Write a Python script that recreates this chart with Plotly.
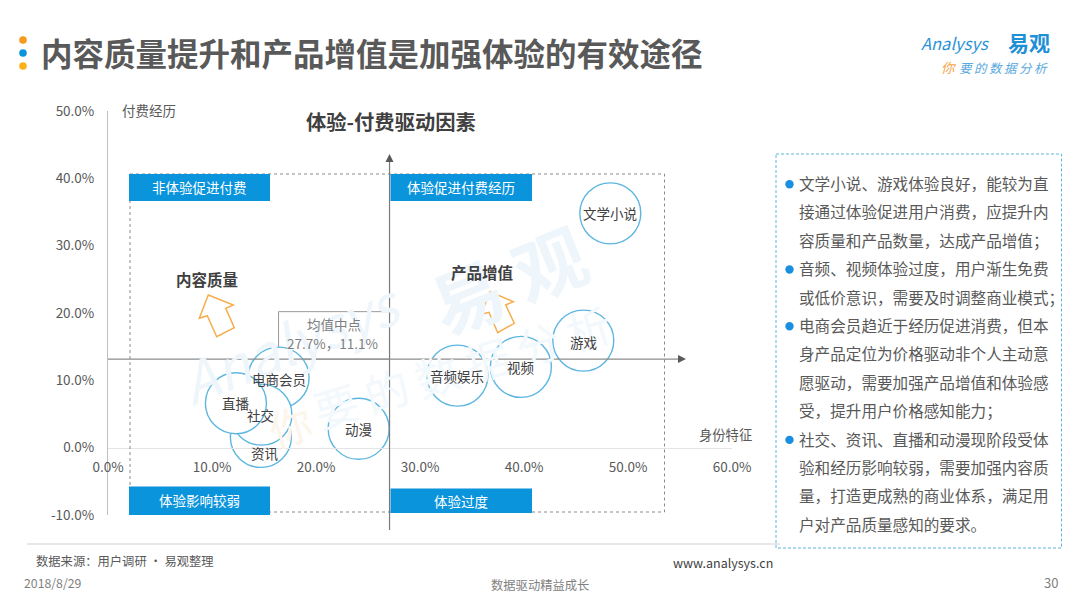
import plotly.graph_objects as go

# ---------- data ----------
bubble_names = ["资讯", "电商会员", "社交", "直播", "动漫", "音频娱乐", "视频", "游戏", "文学小说"]
identity_pct = [14.7, 16.4, 14.75, 12.3, 24.1, 33.6, 39.7, 45.7, 48.3]
payment_pct = [1.6, 10.4, 4.9, 6.6, 2.8, 10.7, 12.0, 15.9, 34.8]
label_dx = [4, 0, -1, 0, 0, 0, 0, 0, 0]
label_dy = [16, 1, 0, 0, 0, 0, 0, 1, 0]
mean_x, mean_y = 27.07, 13.15
mean_box_x, mean_box_y = 16.4, 20.2

x_ticks = [0, 10, 20, 30, 40, 50, 60]
y_ticks = [-10, 0, 10, 20, 30, 40, 50]

title_text = "内容质量提升和产品增值是加强体验的有效途径"
panel_lines = [
    "文学小说、游戏体验良好，能较为直", "接通过体验促进用户消费，应提升内", "容质量和产品数量，达成产品增值；",
    "音频、视频体验过度，用户渐生免费", "或低价意识，需要及时调整商业模式；",
    "电商会员趋近于经历促进消费，但本", "身产品定位为价格驱动非个人主动意", "愿驱动，需要加强产品增值和体验感", "受，提升用户价格感知能力；",
    "社交、资讯、直播和动漫现阶段受体", "验和经历影响较弱，需要加强内容质", "量，打造更成熟的商业体系，满足用", "户对产品质量感知的要求。",
]
bullet_rows = [0, 3, 5, 9]

# ---------- layout constants ----------
W, H = 1080, 608
L, R, T, B = 108, 732, 111, 515
FONT = "Noto Sans CJK SC"
BLUE = "#0a94dc"
RING = "#5db6e0"
ORANGE = "#f5ae4e"
WM = "#eef6fc"


def px_x(v):
    return L + (R - L) * v / 60


def px_y(v):
    return B - (B - T) * (v + 10) / 60


annotations = []
shapes = []


def text(x, y, s, size, color="#595959", bold=False, anchor="center", angle=0, italic=False):
    if bold:
        s = f"<b>{s}</b>"
    if italic:
        s = f"<i>{s}</i>"
    if anchor == "left":
        x -= 2
    y -= size * 0.08
    annotations.append(dict(xref="x2", yref="y2", x=x, y=y, text=s, showarrow=False, xanchor=anchor,
                            yanchor="middle", textangle=angle, font=dict(family=FONT, size=size, color=color)))


def rect(x0, y0, x1, y1, fill=None, line=None, width=1, dash="solid"):
    shapes.append(dict(type="rect", xref="x2", yref="y2", x0=x0, y0=y0, x1=x1, y1=y1,
                       fillcolor=fill or "rgba(0,0,0,0)",
                       line=dict(color=line or "rgba(0,0,0,0)", width=width if line else 0, dash=dash)))


def seg(x0, y0, x1, y1, color, width=1, dash="solid"):
    shapes.append(dict(type="line", xref="x2", yref="y2", x0=x0, y0=y0, x1=x1, y1=y1,
                       line=dict(color=color, width=width, dash=dash)))


def poly(points, fill=None, line=None, width=1.5):
    path = "M " + " L ".join(f"{a} {b}" for a, b in points) + " Z"
    shapes.append(dict(type="path", xref="x2", yref="y2", path=path, fillcolor=fill or "rgba(0,0,0,0)",
                       line=dict(color=line or "rgba(0,0,0,0)", width=width if line else 0)))


def dot(cx, cy, r, color):
    shapes.append(dict(type="circle", xref="x2", yref="y2", x0=cx - r, y0=cy - r, x1=cx + r, y1=cy + r,
                       fillcolor=color, line=dict(width=0)))


# watermark
text(290, 345, "Analysys", 56, WM, angle=-22, italic=True)
text(507, 283, "易 观", 72, WM, bold=True, angle=-22)
text(290, 428, "你", 42, "#fdf4ea", angle=-17)
text(462, 370, "要\u2009的\u2009数\u2009据\u2009分\u2009析", 44, "#f3f8fc", angle=-17)

# title and logo
dot(23, 40, 3.8, "#f59a1b")
dot(23, 53, 3.8, "#0a94dc")
dot(23, 66, 3.8, "#fbb117")
text(41, 55, title_text, 31.5, "#595959", bold=True, anchor="left")
text(921, 44, "Analysys", 16.5, "#2a93d5", anchor="left", italic=True)
text(1008, 44, "易观", 21, "#1f8fd6", bold=True, anchor="left")
text(941, 68, "你", 13.5, "#f5a64a", anchor="left", italic=True)
text(959, 68, "要\u2009的\u2009数\u2009据\u2009分\u2009析", 12.5, "#5aa9de", anchor="left", italic=True)

# chart texts
text(390.5, 123, "体验-付费驱动因素", 20.3, "#404040", bold=True)
text(122, 111, "付费经历", 13.5, anchor="left")
text(699, 436, "身份特征", 13.3, anchor="left")
text(207, 280, "内容质量", 15.5, "#404040", bold=True)
text(482, 273, "产品增值", 15.5, "#404040", bold=True)

# quadrant frame
rect(130, 174, 664.5, 512, line="#8a8a8a", width=1, dash="3px,3px")
rect(129, 174, 270, 201, fill=BLUE)
rect(390.5, 174, 532, 201, fill=BLUE)
rect(129, 486.5, 270, 515, fill=BLUE)
rect(390.5, 488.5, 532, 513, fill=BLUE)
text(199.5, 188, "非体验促进付费", 13.5, "#ffffff")
text(461, 188, "体验促进付费经历", 13.5, "#ffffff")
text(199.5, 501, "体验影响较弱", 13.5, "#ffffff")
text(461, 502.5, "体验过度", 13.5, "#ffffff")

# mean crosshair
cx, cy = px_x(mean_x), px_y(mean_y)
seg(cx, 158, cx, 530, "#7a7a7a", 1.2)
seg(L, cy, 681, cy, "#8c8c8c", 1.2)
poly([(cx, 154), (cx - 4, 162), (cx + 4, 162)], fill="#595959")
poly([(686, cy), (678, cy - 4), (678, cy + 4)], fill="#595959")
shapes.append(dict(type="rect", xref="x", yref="y", x0=mean_box_x, x1=mean_x, y0=mean_y, y1=mean_box_y,
                   layer="below", line=dict(color="#9a9a9a", width=1), fillcolor="rgba(0,0,0,0)"))
text(334, 325, "均值中点", 13.5, "#7f7f7f")
text(332.5, 344.5, "27.7%，11.1%", 13.5, "#7f7f7f")

# hollow arrows
poly([(208.3, 295), (233.3, 305), (225.7, 308.3), (234.3, 327.7), (216.7, 336.7), (207.3, 315.7), (199.3, 318.3)],
     line=ORANGE)
poly([(490, 291.7), (513.3, 301.7), (505.7, 305), (514.3, 323.3), (497.7, 332.7), (489, 312.3), (481, 314.3)],
     line=ORANGE)

# bubble labels
for name, xv, yv, dx, dy in zip(bubble_names, identity_pct, payment_pct, label_dx, label_dy):
    annotations.append(dict(xref="x", yref="y", x=xv, y=yv, text=name, showarrow=False, xshift=dx, yshift=-dy,
                            font=dict(family=FONT, size=13.5, color="#404040")))

# right panel
rect(776, 154, 1061.5, 548, line="#5cb8d8", width=1, dash="3px,2px")
for i, s in enumerate(panel_lines):
    y = 184.3 + 28.4 * i
    text(799, y, s, 15.6, "#595959", anchor="left")
    if i in bullet_rows:
        dot(789.5, y, 4.2, "#1a8fe0")

# footer
seg(27, 544, 780, 544, "#d0d0d0", 1)
text(36, 562, "数据来源：用户调研 · 易观整理", 12.3, anchor="left")
text(673, 563, "www.analysys.cn", 12.5, "#404040", anchor="left")
text(24, 584, "2018/8/29", 12.3, "#7f7f7f", anchor="left")
text(540, 586, "数据驱动精益成长", 12.3, "#7f7f7f")
text(1051, 584, "30", 13, "#7f7f7f")

fig = go.Figure()
fig.add_trace(go.Scatter(x=identity_pct, y=payment_pct, mode="markers", hoverinfo="text", text=bubble_names,
                         marker=dict(size=61, color="#ffffff", line=dict(color=RING, width=1.4)),
                         xaxis="x", yaxis="y", showlegend=False, cliponaxis=False))
fig.add_trace(go.Scatter(x=[None], y=[None], xaxis="x2", yaxis="y2", showlegend=False, hoverinfo="skip"))

fig.update_layout(
    template="none",
    width=W, height=H, autosize=False, margin=dict(l=0, r=0, t=0, b=0, pad=0),
    paper_bgcolor="#ffffff", plot_bgcolor="rgba(0,0,0,0)", showlegend=False,
    font=dict(family=FONT, size=13.5, color="#595959"),
    xaxis=dict(domain=[L / W, R / W], range=[0, 60], tickvals=x_ticks, ticktext=[f"{v:.1f}%" for v in x_ticks],
               anchor="free", position=(H - px_y(0)) / H, showgrid=False, zeroline=False, showline=True,
               linecolor="#e4e4e4", linewidth=1, ticks="", ticklabelstandoff=7, fixedrange=True, tickangle=0,
               automargin=False),
    yaxis=dict(domain=[(H - B) / H, (H - T) / H], range=[-10, 50], tickvals=y_ticks,
               ticktext=[f"{v:.1f}%" for v in y_ticks], showgrid=False, zeroline=False, showline=True,
               linecolor="#bfbfbf", linewidth=1, ticks="", ticklabelstandoff=10, fixedrange=True,
               automargin=False),
    xaxis2=dict(domain=[0, 1], range=[0, W], visible=False, anchor="y2", fixedrange=True),
    yaxis2=dict(domain=[0, 1], range=[H, 0], visible=False, anchor="x2", fixedrange=True),
    shapes=shapes, annotations=annotations,
)

fig.write_html("out.html", config={"displayModeBar": False}, post_script="document.body.style.margin='0';")
